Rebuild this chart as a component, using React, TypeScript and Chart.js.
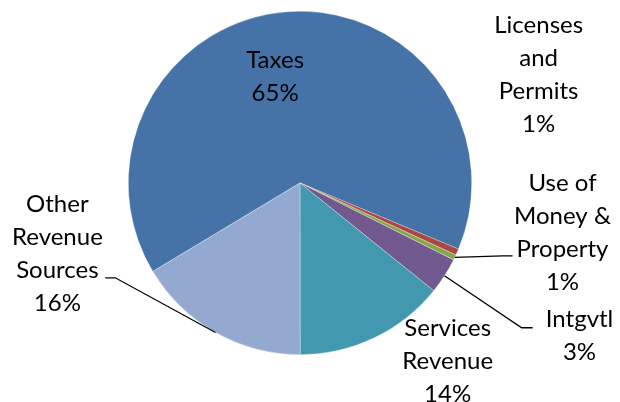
import React, { useEffect, useRef } from "react";
import { Chart, registerables } from "chart.js";

Chart.register(...registerables);

// ---- data ----
const categories = [
  "Taxes",
  "Licenses and Permits",
  "Use of Money & Property",
  "Intgvtl",
  "Services Revenue",
  "Other Revenue Sources",
];
const labelLines = [
  ["Taxes"],
  ["Licenses", "and", "Permits"],
  ["Use of", "Money &", "Property"],
  ["Intgvtl"],
  ["Services", "Revenue"],
  ["Other", "Revenue", "Sources"],
];
const shares = [64.9, 0.6, 0.5, 3.4, 14.2, 16.4];
const colors = ["#4572A7", "#AA4643", "#89A54E", "#71588F", "#4198AF", "#94A9D0"];

// ---- label layout (in units of pie radius, relative to pie centre) ----
type Pt = { x: number; y: number };
const labelPos: { c: Pt; elbow?: Pt; end?: Pt }[] = [
  { c: { x: -0.145, y: -0.619 } },
  { c: { x: 1.39, y: -0.628 } },
  { c: { x: 1.529, y: 0.291 }, elbow: { x: 1.18, y: 0.424 }, end: { x: 1.238, y: 0.424 } },
  { c: { x: 1.628, y: 0.892 }, elbow: { x: 1.291, y: 0.843 }, end: { x: 1.355, y: 0.843 } },
  { c: { x: 0.86, y: 1.041 } },
  { c: { x: -1.413, y: 0.413 }, elbow: { x: -1.076, y: 0.552 }, end: { x: -1.134, y: 0.552 } },
];
const FONT = "24px Lato, 'Open Sans', sans-serif";
const LINE_H = 33;

const labelPlugin = {
  id: "pieLabels",
  afterDraw(chart: any) {
    const ctx = chart.ctx as CanvasRenderingContext2D;
    const meta = chart.getDatasetMeta(0);
    const total = shares.reduce((a, b) => a + b, 0);
    ctx.save();
    meta.data.forEach((arc: any, i: number) => {
      const { x, y, startAngle, endAngle, outerRadius: R } = arc.getProps(
        ["x", "y", "startAngle", "endAngle", "outerRadius"],
        true
      );
      const lp = labelPos[i];
      const mid = (startAngle + endAngle) / 2;
      if (lp.elbow && lp.end) {
        ctx.beginPath();
        ctx.strokeStyle = "#000";
        ctx.lineWidth = 1.3;
        ctx.moveTo(x + R * Math.cos(mid), y + R * Math.sin(mid));
        ctx.lineTo(x + R * lp.elbow.x, y + R * lp.elbow.y);
        ctx.lineTo(x + R * lp.end.x, y + R * lp.end.y);
        ctx.stroke();
      }
      const lines = [...labelLines[i], Math.round((shares[i] / total) * 100) + "%"];
      const cx = x + R * lp.c.x;
      const cy = y + R * lp.c.y;
      ctx.font = FONT;
      ctx.fillStyle = "#000";
      ctx.textAlign = "center";
      ctx.textBaseline = "middle";
      lines.forEach((t, k) => {
        ctx.fillText(t, cx, cy + (k - (lines.length - 1) / 2) * LINE_H);
      });
    });
    ctx.restore();
  },
};

export default function App() {
  const ref = useRef<HTMLCanvasElement | null>(null);
  useEffect(() => {
    if (!ref.current) return;
    const chart = new Chart(ref.current, {
      type: "pie",
      data: {
        labels: categories,
        datasets: [
          {
            data: shares,
            backgroundColor: colors,
            borderColor: "rgba(255,255,255,0.5)",
            borderWidth: 0.6,
          },
        ],
      },
      options: {
        responsive: false,
        animation: false,
        rotation: -121,
        layout: { padding: { left: 128, right: 148, top: 11, bottom: 47 } },
        plugins: { legend: { display: false }, tooltip: { enabled: false } },
      },
      plugins: [labelPlugin],
    });
    return () => chart.destroy();
  }, []);
  return (
    <div style={{ position: "absolute", left: 0, top: 0, width: 620, height: 402, background: "#fff" }}>
      <canvas ref={ref} width={620} height={402} />
    </div>
  );
}
